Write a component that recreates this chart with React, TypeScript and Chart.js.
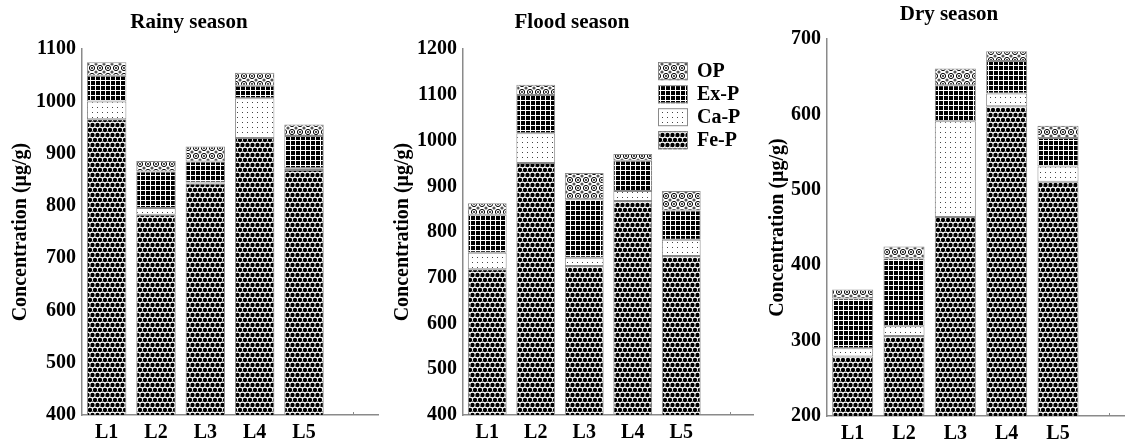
import React, { useEffect, useRef } from 'react';
import { Chart, registerables } from 'chart.js';

Chart.register(...registerables);

// ---------- DATA ----------
const categories = ['L1', 'L2', 'L3', 'L4', 'L5', ''];
const seriesNames = ['Fe-P', 'Ca-P', 'Ex-P', 'OP'];

const rainyFeP = [966, 783, 843, 930, 869, null];
const rainyCaP = [34, 13, 2, 76, 3, null];
const rainyExP = [49, 70, 40, 24, 62, null];
const rainyOP = [26, 20, 29, 25, 22, null];

const floodFeP = [719, 951, 726, 868, 748, null];
const floodCaP = [36, 65, 18, 22, 35, null];
const floodExP = [83, 84, 128, 66, 64, null];
const floodOP = [25, 22, 57, 15, 43, null];

const dryFeP = [279, 306, 464, 611, 511, null];
const dryCaP = [11, 13, 127, 17, 20, null];
const dryExP = [66, 90, 48, 43, 38, null];
const dryOP = [12, 16, 22, 13, 16, null];

const rainyRange = [400, 1100];
const floodRange = [400, 1200];
const dryRange = [200, 700];
const tickStep = 100;

const titles = ['Rainy season', 'Flood season', 'Dry season'];
const yAxisTitle = 'Concentration (\u03bcg/g)';

// ---------- STYLE ----------
const FONT = "'Liberation Serif', 'Times New Roman', serif";
const AXIS_GRAY = '#8a8a8a';
const BAR_BORDER = '#8a8a8a';

function makePattern(kind: string): CanvasPattern | string {
  const c = document.createElement('canvas');
  const ctx = c.getContext('2d');
  if (!ctx) return '#000';
  if (kind === 'Fe-P') {
    c.width = 5; c.height = 10;
    ctx.fillStyle = '#fff';
    ctx.fillRect(0, 0, 5, 10);
    ctx.fillStyle = '#000';
    for (const [x, y] of [[0, 0], [5, 0], [2.5, 5], [0, 10], [5, 10]]) {
      ctx.beginPath();
      ctx.arc(x, y, 2.2, 0, Math.PI * 2);
      ctx.fill();
    }
    ctx.fillStyle = '#777';
    ctx.fillRect(2, 1, 1, 1);
    ctx.fillRect(0, 6, 1, 1);
  } else if (kind === 'Ca-P') {
    c.width = 5; c.height = 5;
    ctx.fillStyle = '#fff';
    ctx.fillRect(0, 0, 5, 5);
    ctx.fillStyle = '#444';
    ctx.fillRect(2, 2, 1, 1);
  } else if (kind === 'Ex-P') {
    c.width = 5; c.height = 5;
    ctx.fillStyle = '#000';
    ctx.fillRect(0, 0, 5, 5);
    ctx.fillStyle = '#fff';
    ctx.fillRect(0, 0, 5, 1);
    ctx.fillRect(0, 0, 1, 5);
  } else {
    c.width = 8; c.height = 8;
    ctx.fillStyle = '#fff';
    ctx.fillRect(0, 0, 8, 8);
    ctx.fillStyle = '#555';
    for (const [x, y] of [[0, 0], [8, 0], [0, 8], [8, 8]]) {
      ctx.beginPath();
      ctx.arc(x, y, 1.6, 0, Math.PI * 2);
      ctx.fill();
    }
    ctx.strokeStyle = '#000';
    ctx.lineWidth = 1;
    ctx.beginPath();
    ctx.arc(4, 4, 2.6, 0, Math.PI * 2);
    ctx.stroke();
    ctx.fillStyle = '#000';
    ctx.beginPath();
    ctx.arc(4, 4, 0.9, 0, Math.PI * 2);
    ctx.fill();
  }
  return ctx.createPattern(c, 'repeat') || '#000';
}

interface PanelCfg {
  title: string;
  series: (number | null)[][];
  range: number[];
  left: number;
  width: number;
  padRight: number;
  yWidth: number;
  xHeight: number;
  titlePadTop: number;
  titlePadBottom: number;
  yTitlePad: number;
  legend: boolean;
}

const inwardTicks = {
  id: 'inwardTicks',
  beforeDatasetsDraw(chart: any) {
    const x = chart.scales.x;
    const { ctx, chartArea } = chart;
    ctx.save();
    ctx.strokeStyle = AXIS_GRAY;
    ctx.lineWidth = 1;
    for (let i = 0; i < x.ticks.length; i++) {
      const px = Math.round(x.getPixelForTick(i)) + 0.5;
      ctx.beginPath();
      ctx.moveTo(px, chartArea.bottom);
      ctx.lineTo(px, chartArea.bottom - 3);
      ctx.stroke();
    }
    ctx.restore();
  },
};

const insideLegend = {
  id: 'insideLegend',
  afterDatasetsDraw(chart: any, _args: any, opts: any) {
    if (!opts || !opts.show) return;
    const { ctx, chartArea } = chart;
    const ds = chart.data.datasets.slice().reverse();
    const bx = chartArea.right - 96;
    let by = chartArea.top + 13;
    ctx.save();
    ctx.font = `bold 20px ${FONT}`;
    ctx.textBaseline = 'middle';
    ctx.textAlign = 'left';
    for (const d of ds) {
      ctx.fillStyle = d.backgroundColor;
      ctx.fillRect(bx, by, 30, 18);
      ctx.strokeStyle = BAR_BORDER;
      ctx.lineWidth = 1;
      ctx.strokeRect(bx + 0.5, by + 0.5, 29, 17);
      ctx.fillStyle = '#000';
      ctx.fillText(d.label, bx + 39, by + 10);
      by += 23;
    }
    ctx.restore();
  },
};

function Panel({ cfg }: { cfg: PanelCfg }) {
  const ref = useRef<HTMLCanvasElement>(null);
  useEffect(() => {
    if (!ref.current) return;
    const datasets = seriesNames.map((name, i) => ({
      label: name,
      data: cfg.series[i],
      backgroundColor: makePattern(name) as any,
      borderColor: BAR_BORDER,
      borderWidth: 1,
      borderSkipped: false as any,
      barPercentage: 1,
      categoryPercentage: 0.8,
    }));
    const chart = new Chart(ref.current, {
      type: 'bar',
      data: { labels: categories, datasets },
      options: {
        animation: false,
        responsive: false,
        maintainAspectRatio: false,
        layout: { padding: { left: 0, right: cfg.padRight, top: 0, bottom: 0 } },
        plugins: {
          legend: { display: false },
          tooltip: { enabled: false },
          title: {
            display: true,
            text: cfg.title,
            color: '#000',
            font: { family: FONT, size: 21, weight: 'bold' },
            padding: { top: cfg.titlePadTop, bottom: cfg.titlePadBottom },
          },
          insideLegend: { show: cfg.legend },
        } as any,
        scales: {
          x: {
            stacked: true,
            grid: { display: false, drawTicks: false },
            border: { display: true, color: AXIS_GRAY, width: 1.5 },
            ticks: {
              color: '#000',
              font: { family: FONT, size: 20, weight: 'bold' },
              padding: 6,
              maxRotation: 0,
              autoSkip: false,
            },
            afterFit: (s: any) => { s.height = cfg.xHeight; },
          },
          y: {
            stacked: true,
            min: cfg.range[0],
            max: cfg.range[1],
            grid: { display: false, drawTicks: false },
            border: { display: true, color: AXIS_GRAY, width: 1.5 },
            ticks: {
              stepSize: tickStep,
              color: '#000',
              font: { family: FONT, size: 20, weight: 'bold' },
              padding: 6,
              callback: (v: any) => String(v),
            },
            title: {
              display: true,
              text: yAxisTitle,
              color: '#000',
              font: { family: FONT, size: 20, weight: 'bold' },
              padding: { top: cfg.yTitlePad, bottom: 0 },
            },
            afterFit: (s: any) => { s.width = cfg.yWidth; },
          },
        },
      },
      plugins: [inwardTicks, insideLegend],
    });
    return () => chart.destroy();
  }, []);
  return (
    <canvas
      ref={ref}
      width={cfg.width}
      height={440}
      style={{ position: 'absolute', left: cfg.left, top: 0, width: cfg.width, height: 440 }}
    />
  );
}

const panels: PanelCfg[] = [
  {
    title: titles[0], series: [rainyFeP, rainyCaP, rainyExP, rainyOP], range: rainyRange,
    left: 0, width: 385, padRight: 7, yWidth: 82, xHeight: 25,
    titlePadTop: 10, titlePadBottom: 14, yTitlePad: 9, legend: false,
  },
  {
    title: titles[1], series: [floodFeP, floodCaP, floodExP, floodOP], range: floodRange,
    left: 390, width: 364, padRight: 0, yWidth: 73, xHeight: 25,
    titlePadTop: 10, titlePadBottom: 14, yTitlePad: 1, legend: true,
  },
  {
    title: titles[2], series: [dryFeP, dryCaP, dryExP, dryOP], range: dryRange,
    left: 763, width: 372, padRight: 0, yWidth: 64, xHeight: 24,
    titlePadTop: 2, titlePadBottom: 12, yTitlePad: 3, legend: false,
  },
];

export default function App() {
  return (
    <div style={{ position: 'absolute', left: 0, top: 0, width: 1125, height: 440, overflow: 'hidden', background: '#fff' }}>
      {panels.map((p, i) => <Panel key={i} cfg={p} />)}
    </div>
  );
}
